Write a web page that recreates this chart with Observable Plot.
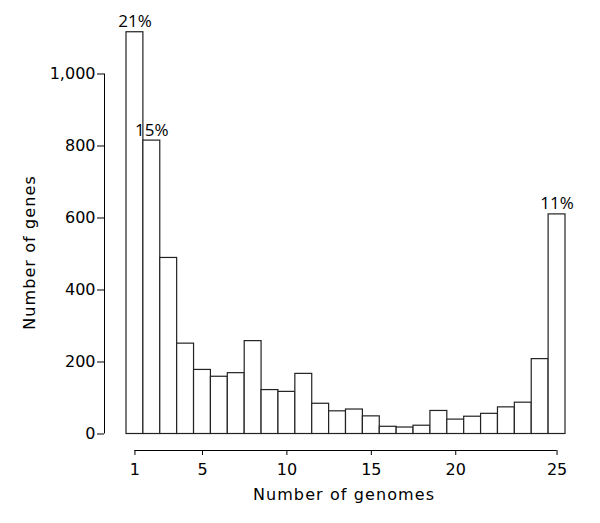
<!DOCTYPE html>
<html><head><meta charset="utf-8">
<script src="https://cdn.jsdelivr.net/npm/d3@7"></script>
<script src="https://cdn.jsdelivr.net/npm/@observablehq/plot@0.6"></script>
<style>html,body{margin:0;padding:0;background:#fff} #chart svg{display:block}</style>
</head><body><div id="chart"></div>
<script>
const genomes = [1,2,3,4,5,6,7,8,9,10,11,12,13,14,15,16,17,18,19,20,21,22,23,24,25,26];
const geneCounts = [1116,815,489,251,178,159,169,258,122,117,167,84,63,68,49,20,18,23,64,40,48,56,74,87,208,610];
const xTickValues = [1,5,10,15,20,26];
const xTickLabels = ["1","5","10","15","20","25"];
const yTickValues = [0,200,400,600,800,1000];
const labelGenomes = [1,2,26];
const labelTexts = ["21%","15%","11%"];
const xTitle = "Number of genomes";
const yTitle = "Number of genes";

const bars = genomes.map((g,i)=>({g, n: geneCounts[i]}));
const labels = labelGenomes.map((g,i)=>({g, n: geneCounts[genomes.indexOf(g)], t: labelTexts[i]}));

const chart = Plot.plot({
  width: 600, height: 523,
  marginLeft: 126, marginRight: 35, marginTop: 1.5, marginBottom: 89.5,
  style: {fontFamily: "DejaVu Sans", fontSize: "16px", background: "#fff", color: "#000"},
  x: {domain: [0.5, 26.5], axis: null},
  y: {domain: [0, 1200], axis: null},
  marks: [
    Plot.rectY(bars, {x1: d=>d.g-0.5, x2: d=>d.g+0.5, y: "n", fill: "white", stroke: "#222", strokeWidth: 1.2}),
    Plot.text(labels, {x: "g", y: "n", text: "t", lineAnchor: "bottom", dy: -5, fontFamily: "Open Sans", fontSize: 17}),
    Plot.axisY({ticks: yTickValues, tickFormat: d3.format(","), tickSize: 7, tickPadding: 2, dx: -22, fontSize: 16, anchor: "left", label: null}),
    Plot.ruleX([0.5], {y1: 0, y2: 1000, dx: -22, stroke: "black"}),
    Plot.axisX({ticks: xTickValues, tickFormat: d => xTickLabels[xTickValues.indexOf(d)], tickSize: 5, tickPadding: 8, dy: 16.5, anchor: "bottom", label: null, fontSize: 16}),
    Plot.ruleY([0], {x1: 1, x2: 26, dy: 16.5, stroke: "black"}),
    Plot.text([xTitle], {frameAnchor: "bottom", lineAnchor: "bottom", textAnchor: "middle", dy: 65.5, dx: -2, fontSize: 16}),
    Plot.text([yTitle], {frameAnchor: "left", rotate: -90, textAnchor: "middle", lineAnchor: "middle", dx: -96.5, dy: 34.5, fontSize: 16})
  ]
});
chart.querySelectorAll('g[aria-label="text"] text').forEach(t => {
  if (t.textContent === xTitle || t.textContent === yTitle) t.setAttribute("letter-spacing", "1.1px");
});
document.getElementById("chart").appendChild(chart);
</script>
</body></html>
